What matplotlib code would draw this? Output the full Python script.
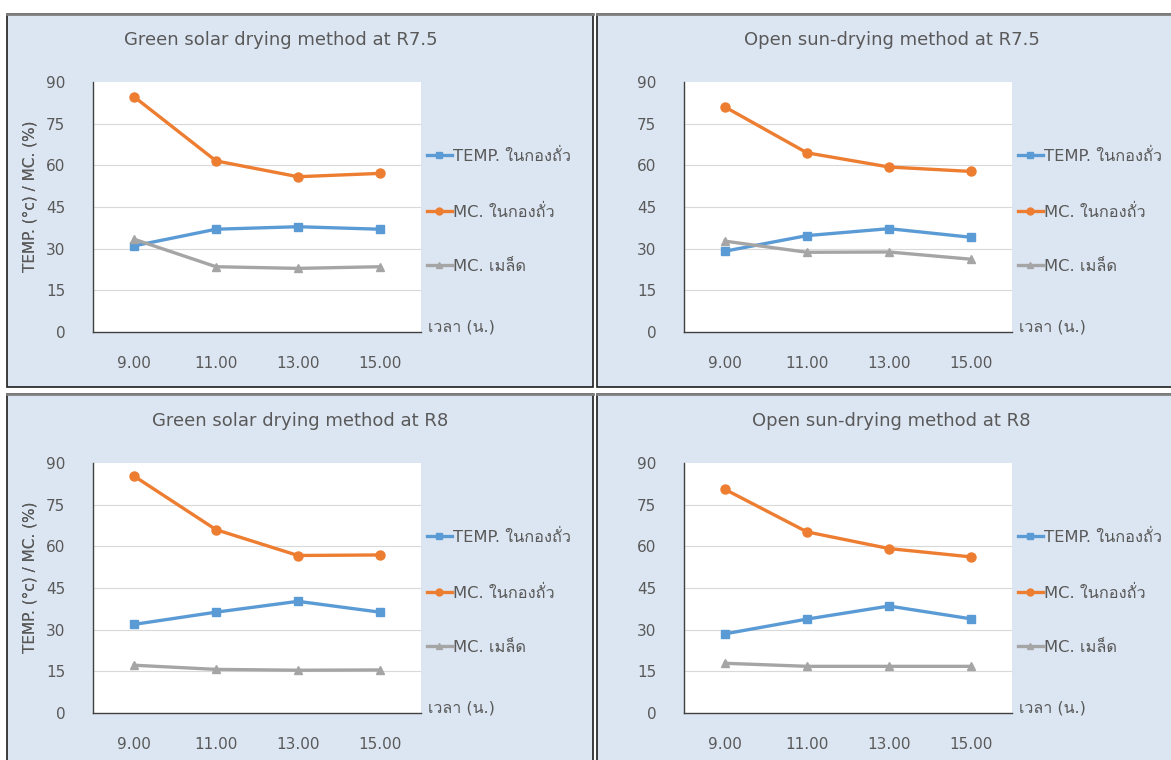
import matplotlib
matplotlib.use("Agg")
import matplotlib.pyplot as plt
from matplotlib import font_manager
from matplotlib.lines import Line2D
from matplotlib.patches import Rectangle

# ---------------- data ----------------
times = ["9.00", "11.00", "13.00", "15.00"]
series_names = ["TEMP. ในกองถั่ว", "MC. ในกองถั่ว", "MC. เมล็ด"]
x_title = "เวลา (น.)"
y_title = "TEMP. (°c) / MC. (%)"
y_ticks = [0, 15, 30, 45, 60, 75, 90]

titles = [
    "Green solar drying method at R7.5",
    "Open sun-drying method at R7.5",
    "Green solar drying method at R8",
    "Open sun-drying method at R8",
]

green_r75_temp = [31.0, 37.0, 37.9, 37.0]
green_r75_mc_pile = [84.7, 61.6, 55.9, 57.1]
green_r75_mc_seed = [33.4, 23.5, 22.9, 23.5]

open_r75_temp = [29.1, 34.7, 37.2, 34.1]
open_r75_mc_pile = [81.0, 64.5, 59.4, 57.8]
open_r75_mc_seed = [32.7, 28.7, 28.8, 26.2]

green_r8_temp = [31.9, 36.3, 40.2, 36.3]
green_r8_mc_pile = [85.3, 66.0, 56.7, 56.9]
green_r8_mc_seed = [17.2, 15.7, 15.4, 15.5]

open_r8_temp = [28.5, 33.8, 38.5, 33.9]
open_r8_mc_pile = [80.5, 65.2, 59.2, 56.2]
open_r8_mc_seed = [17.9, 16.8, 16.8, 16.8]

panels = [
    (green_r75_temp, green_r75_mc_pile, green_r75_mc_seed),
    (open_r75_temp, open_r75_mc_pile, open_r75_mc_seed),
    (green_r8_temp, green_r8_mc_pile, green_r8_mc_seed),
    (open_r8_temp, open_r8_mc_pile, open_r8_mc_seed),
]


# ---------------- fonts ----------------
def find_thai_family():
    try:
        from fontTools.ttLib import TTFont
    except Exception:
        return None
    preferred = []
    others = []
    for fe in font_manager.fontManager.ttflist:
        try:
            kw = {"fontNumber": 0} if fe.fname.lower().endswith(".ttc") else {}
            f = TTFont(fe.fname, lazy=True, **kw)
            cmap = f.getBestCmap() or {}
            if 0x0E43 in cmap and 0x0E16 in cmap and 0x0E48 in cmap:
                if "sans" in fe.name.lower() or fe.name in ("Loma", "Garuda", "Tahoma"):
                    preferred.append(fe.name)
                else:
                    others.append(fe.name)
        except Exception:
            continue
    found = preferred + others
    return found[0] if found else None


thai = find_thai_family()
families = ["DejaVu Sans"] + ([thai] if thai and thai != "DejaVu Sans" else [])
plt.rcParams["font.family"] = families

# ---------------- style ----------------
W, H = 1171, 760
TEXT = "#595959"
PANEL_BG = "#DCE6F2"
colors = ["#5B9BD5", "#ED7D31", "#A5A5A5"]
markers = ["s", "o", "^"]
msizes = [6, 6.5, 6]

fig = plt.figure(figsize=(W / 100, H / 100), dpi=100, facecolor="white")


def fx(px):
    return px / W


def fy(py):
    return 1 - py / H


# panel frames (pixel extents: x0, y0, x1, y1)
panel_px = [
    (7, 14, 593, 387),
    (597, 14, 1185, 387),
    (7, 394, 593, 775),
    (597, 394, 1185, 775),
]
# plot areas
axes_px = [
    (93, 82, 421, 332),
    (684, 82, 1012, 332),
    (93, 463, 421, 713),
    (684, 463, 1012, 713),
]
title_cx = [281, 892, 300, 891]

for (x0, y0, x1, y1) in panel_px:
    fig.add_artist(Rectangle((fx(x0), fy(y1)), fx(x1 - x0), (y1 - y0) / H,
                             transform=fig.transFigure, facecolor=PANEL_BG,
                             edgecolor="#1E1E1E", linewidth=1.2, zorder=-5))
    fig.add_artist(Line2D([fx(x0), fx(x1)], [fy(y0), fy(y0)], transform=fig.transFigure,
                          color="#7F7F7F", linewidth=2.0, zorder=-4))

for i, (x0, y0, x1, y1) in enumerate(axes_px):
    ax = fig.add_axes([fx(x0), fy(y1), fx(x1 - x0), (y1 - y0) / H])
    ax.set_zorder(2)
    ax.set_facecolor("white")
    xs = list(range(len(times)))
    for vals, name, c, m, ms in zip(panels[i], series_names, colors, markers, msizes):
        ax.plot(xs, vals, color=c, lw=2.4, marker=m, markersize=ms,
                markeredgecolor=c, markerfacecolor=c, label=name, zorder=3,
                clip_on=False)
    ax.set_xlim(-0.5, len(times) - 0.5)
    ax.set_ylim(0, 90)
    ax.set_xticks(xs)
    ax.set_xticklabels(times)
    ax.set_yticks(y_ticks)
    ax.tick_params(axis="both", length=0, colors=TEXT, labelsize=11)
    ax.tick_params(axis="x", pad=17)
    ax.tick_params(axis="y", pad=20)
    ax.grid(axis="y", color="#D9D9D9", linewidth=0.8, zorder=0)
    ax.set_axisbelow(True)
    ax.yaxis.get_gridlines()[-1].set_visible(False)
    ax.yaxis.get_gridlines()[0].set_visible(False)
    for s in ("top", "right"):
        ax.spines[s].set_visible(False)
    for s in ("left", "bottom"):
        ax.spines[s].set_color("#404040")
        ax.spines[s].set_linewidth(1.0)

    # y axis title
    fig.text(fx(30), fy((y0 + y1) / 2 - 11), y_title,
             rotation=90, ha="center", va="center", color=TEXT, fontsize=11)
    # chart title
    fig.text(fx(title_cx[i]), fy(y0 - 42), titles[i], ha="center", va="center",
             color=TEXT, fontsize=13)
    # x axis title to the right of the axis end
    fig.text(fx(x1 + 7), fy(y1 - 5), x_title, ha="left", va="center",
             color=TEXT, fontsize=11.5)

    handles = [Line2D([0], [0], color=c, lw=2.4, marker=m, markersize=ms - 1.5)
               for c, m, ms in zip(colors, markers, msizes)]
    ax.legend(handles, series_names, loc="center left",
              bbox_to_anchor=(fx(x1 + 6), fy((y0 + y1) / 2 + 4)),
              bbox_transform=fig.transFigure, frameon=False, borderpad=0,
              borderaxespad=0, handlelength=1.5, handletextpad=0.1,
              labelspacing=2.4, fontsize=11.8, labelcolor=TEXT)

fig.savefig("out.png", dpi=100, facecolor="white")
